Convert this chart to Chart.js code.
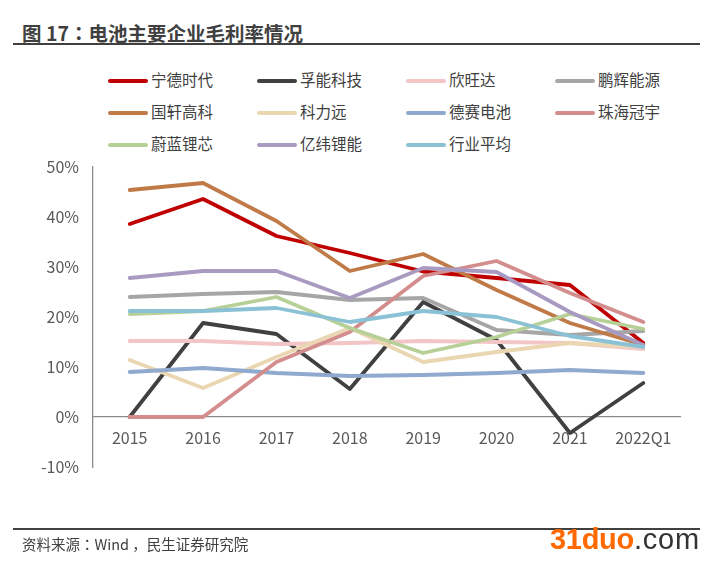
<!DOCTYPE html>
<html><head><meta charset="utf-8">
<script src="https://cdn.jsdelivr.net/npm/chart.js@4"></script>
<style>
html,body{margin:0;padding:0;background:#fff;}
#wrap{position:relative;width:713px;height:561px;overflow:hidden;font-family:"Noto Sans CJK SC","Noto Sans",sans-serif;}
#title{position:absolute;left:22px;top:19px;font-size:19.5px;font-weight:bold;color:#404040;line-height:28px;white-space:nowrap;}
.p{font-family:"Noto Sans CJK TC";}
#tline{position:absolute;left:13px;top:43px;width:687px;height:2px;background:#404040;}
#bline{position:absolute;left:13px;top:528px;width:687px;height:2px;background:#404040;}
#src{position:absolute;left:22px;top:534px;font-size:14.5px;color:#404040;line-height:20px;white-space:nowrap;}
#wm{position:absolute;left:550px;top:522px;font-family:"Liberation Sans",Arial,sans-serif;font-weight:bold;font-size:29px;line-height:34px;white-space:nowrap;}
#wm .o{color:#FF6A00;letter-spacing:-0.3px;}#wm .c{color:#333;font-weight:normal;letter-spacing:0.8px;}
#legend{position:absolute;left:108px;top:68px;}
.li{position:absolute;height:22px;line-height:22px;font-size:15.5px;color:#404040;white-space:nowrap;}
.li span.ln{display:inline-block;width:40px;height:4px;border-radius:2px;vertical-align:middle;margin-right:3px;position:relative;top:-1px;}
canvas{position:absolute;left:0;top:0;}
</style></head>
<body><div id="wrap">
<div id="title">图 17<span class="p">：</span>电池主要企业毛利率情况</div>
<div id="tline"></div>
<div id="legend"></div>
<canvas id="c" width="713" height="561"></canvas>
<div id="bline"></div>
<div id="src">资料来源<span class="p">：</span>Wind <span>，</span>民生证券研究院</div>
<div id="wm"><span class="o">31duo</span><span class="c">.com</span></div>
</div>
<script>
const categories = ["2015","2016","2017","2018","2019","2020","2021","2022Q1"];
const seriesNames = ["宁德时代","孚能科技","欣旺达","鹏辉能源","国轩高科","科力远","德赛电池","珠海冠宇","蔚蓝锂芯","亿纬锂能","行业平均"];
const catl     = [38.6, 43.6, 36.2, 32.8, 29.1, 27.8, 26.4, 14.8];
const farasis  = [0.0, 18.8, 16.6, 5.6, 23.0, 15.4, -3.2, 6.8];
const sunwoda  = [15.2, 15.2, 14.6, 14.8, 15.2, 15.0, 14.8, 13.6];
const greatPower = [24.0, 24.6, 25.0, 23.4, 23.8, 17.4, 16.4, 17.2];
const gotion   = [45.4, 46.8, 39.2, 29.2, 32.6, 25.4, 18.8, 14.4];
const corun    = [11.4, 5.8, 12.0, 17.8, 11.0, 13.0, 14.8, 14.0];
const desay    = [9.0, 9.8, 8.8, 8.2, 8.4, 8.8, 9.4, 8.8];
const cosmx    = [0.0, 0.0, 11.0, 17.0, 28.2, 31.2, 24.8, 19.0];
const changhong= [20.6, 21.2, 24.0, 17.8, 12.8, 16.0, 20.6, 17.6];
const eve      = [27.8, 29.2, 29.2, 23.8, 29.8, 29.0, 21.0, 14.4];
const industry = [21.2, 21.2, 21.8, 19.0, 21.2, 20.0, 16.2, 14.0];
const yTicks = [-10, 0, 10, 20, 30, 40, 50];

const seriesData = [catl, farasis, sunwoda, greatPower, gotion, corun, desay, cosmx, changhong, eve, industry];
const colors = ["#C00000","#404040","#F2C6C6","#A6A6A6","#C07A47","#EAD7B2","#8FA9CF","#D48D8D","#B7D097","#A99AC2","#8AC1D5"];

// legend
const leg = document.getElementById('legend');
seriesNames.forEach((n,i)=>{
  const d=document.createElement('div');d.className='li';
  d.style.left=(i%4)*149+'px';d.style.top=[0,32,64][Math.floor(i/4)]+'px';
  d.innerHTML='<span class="ln" style="background:'+colors[i]+'"></span>'+n;
  leg.appendChild(d);
});

const datasets = seriesData.map((arr,i)=>({
  label: seriesNames[i], data: arr, borderColor: colors[i], backgroundColor: colors[i],
  borderWidth: 3.8, pointRadius: 0, tension: 0, fill: false,
  borderJoinStyle: 'round', borderCapStyle: 'round', order: -i
}));

new Chart(document.getElementById('c'), {
  type: 'line',
  data: { labels: categories, datasets },
  options: {
    responsive: false, animation: false,
    layout: { padding: { top: 167, bottom: 94, left: 0, right: 33 } },
    plugins: { legend: { display: false }, tooltip: { enabled: false } },
    scales: {
      x: {
        position: { y: 0 }, offset: true,
        grid: { display: false, drawTicks: false },
        border: { display: true, color: '#8C8C8C', width: 1.3 },
        ticks: { color: '#595959', font: { family: '"Noto Sans CJK SC"', size: 16 }, padding: 11, maxRotation: 0, autoSkip: false },
        afterFit: s => { s.height = 0; }
      },
      y: {
        min: -10, max: 50,
        afterBuildTicks: s => { s.ticks = yTicks.map(v=>({value:v})); },
        grid: { display: false, drawTicks: false },
        border: { display: true, color: '#8C8C8C', width: 1.3 },
        ticks: { color: '#595959', font: { family: '"Noto Sans CJK SC"', size: 16 }, padding: 14, callback: v => v + '%' },
        afterFit: s => { s.width = 93; }
      }
    }
  }
});
</script>
</body></html>
